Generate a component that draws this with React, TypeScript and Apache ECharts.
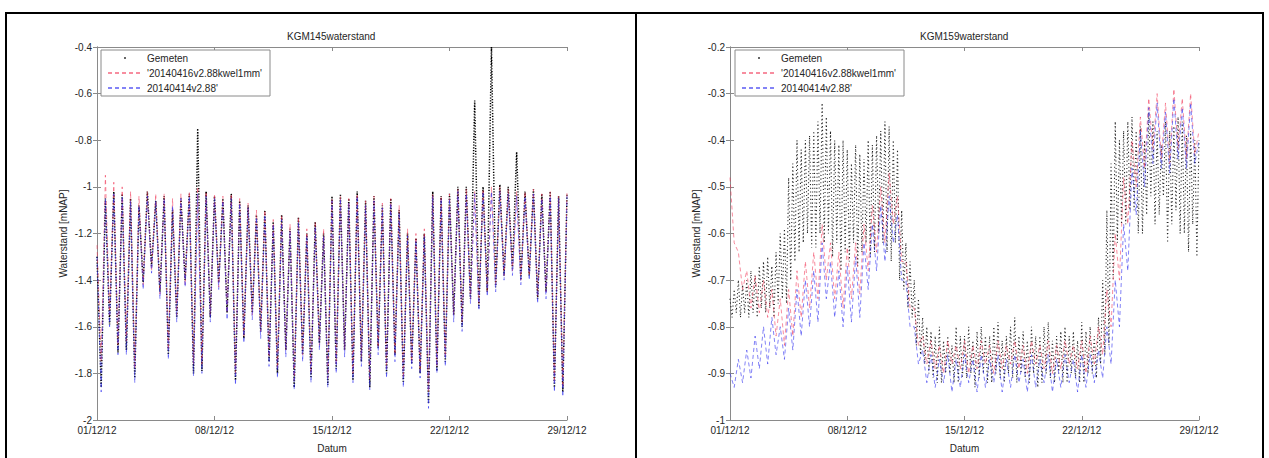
import React, { useEffect, useRef } from "react";
import * as echarts from "echarts";

// ---- Tick labels / names ----
const tickDays = [0, 7, 14, 21, 28];
const dateLabels = ["01/12/12", "08/12/12", "15/12/12", "22/12/12", "29/12/12"];
const titles = ["KGM145waterstand", "KGM159waterstand"];
const seriesNames = ["Gemeten", "'20140416v2.88kwel1mm'", "20140414v2.88'"];
const xName = "Datum";
const yName = "Waterstand [mNAP]";

// model + KGM145 samples every 6 hours (0.25 day), 01/12/12 00:00 .. 29/12/12 00:00
const SAMPLE_STEP_DAYS = 0.25;
// KGM159 measurements every 3 hours (0.125 day)
const KGM159_MEAS_STEP_DAYS = 0.125;

// ---- KGM145 (left) ----
const kgm145Gemeten = [
  -1.30, -1.86, -1.05, -1.59, -1.02, -1.71, -1.03, -1.70, -1.05, -1.82,
  -1.08, -1.41, -1.02, -1.34, -1.06, -1.45, -1.04, -1.72, -1.10, -1.56,
  -1.05, -1.40, -1.03, -1.80, -0.75, -1.79, -1.02, -1.56, -1.04, -1.41,
  -1.05, -1.54, -1.03, -1.83, -1.06, -1.65, -1.08, -1.54, -1.12, -1.62,
  -1.10, -1.75, -1.15, -1.80, -1.12, -1.70, -1.18, -1.86, -1.13, -1.72,
  -1.20, -1.82, -1.15, -1.67, -1.20, -1.85, -1.04, -1.78, -1.03, -1.70,
  -1.05, -1.83, -1.02, -1.75, -1.06, -1.86, -1.04, -1.69, -1.08, -1.80,
  -1.05, -1.72, -1.10, -1.84, -1.20, -1.76, -1.22, -1.80, -1.20, -1.93,
  -1.02, -1.79, -1.04, -1.75, -1.03, -1.55, -1.00, -1.60, -1.00, -1.48,
  -0.63, -1.52, -1.00, -1.45, -0.40, -1.43, -0.99, -1.38, -1.00, -1.35,
  -0.85, -1.40, -1.02, -1.38, -1.01, -1.48, -1.03, -1.45, -1.02, -1.86,
  -1.04, -1.88, -1.03,
];
const kgm145Kwel = [
  -1.25, -1.75, -0.95, -1.55, -0.98, -1.68, -1.00, -1.66, -1.02, -1.78,
  -1.04, -1.42, -1.02, -1.36, -1.03, -1.46, -1.03, -1.70, -1.05, -1.55,
  -1.03, -1.42, -1.02, -1.76, -1.00, -1.76, -1.02, -1.55, -1.03, -1.43,
  -1.04, -1.54, -1.03, -1.80, -1.05, -1.64, -1.07, -1.55, -1.10, -1.62,
  -1.10, -1.73, -1.14, -1.78, -1.12, -1.70, -1.16, -1.83, -1.13, -1.72,
  -1.18, -1.80, -1.15, -1.68, -1.18, -1.82, -1.05, -1.76, -1.04, -1.70,
  -1.05, -1.80, -1.03, -1.74, -1.06, -1.83, -1.04, -1.69, -1.07, -1.78,
  -1.05, -1.72, -1.08, -1.82, -1.18, -1.75, -1.20, -1.79, -1.18, -1.88,
  -1.03, -1.77, -1.04, -1.73, -1.03, -1.55, -1.01, -1.58, -1.01, -1.48,
  -1.02, -1.50, -1.01, -1.45, -1.00, -1.42, -1.00, -1.38, -1.01, -1.36,
  -1.02, -1.40, -1.02, -1.38, -1.01, -1.47, -1.03, -1.45, -1.02, -1.84,
  -1.04, -1.86, -1.02,
];
const kgm145Base = [
  -1.30, -1.88, -1.05, -1.60, -1.03, -1.72, -1.04, -1.72, -1.06, -1.84,
  -1.08, -1.44, -1.04, -1.37, -1.06, -1.48, -1.05, -1.74, -1.08, -1.58,
  -1.05, -1.43, -1.04, -1.81, -1.03, -1.80, -1.04, -1.58, -1.05, -1.44,
  -1.06, -1.57, -1.05, -1.85, -1.07, -1.67, -1.09, -1.57, -1.13, -1.65,
  -1.12, -1.77, -1.16, -1.82, -1.14, -1.73, -1.19, -1.87, -1.15, -1.75,
  -1.21, -1.84, -1.17, -1.70, -1.21, -1.86, -1.06, -1.80, -1.05, -1.73,
  -1.07, -1.84, -1.04, -1.77, -1.08, -1.87, -1.06, -1.72, -1.09, -1.82,
  -1.07, -1.75, -1.11, -1.86, -1.21, -1.78, -1.23, -1.82, -1.21, -1.95,
  -1.04, -1.80, -1.05, -1.77, -1.05, -1.58, -1.02, -1.62, -1.03, -1.50,
  -1.03, -1.53, -1.02, -1.47, -1.02, -1.45, -1.02, -1.40, -1.03, -1.38,
  -1.04, -1.42, -1.04, -1.40, -1.03, -1.50, -1.05, -1.48, -1.04, -1.88,
  -1.05, -1.90, -1.04,
];

// ---- KGM159 (right) ----
const kgm159Gemeten = [
  -0.74, -0.78, -0.72, -0.77, -0.70, -0.78, -0.71, -0.77,
  -0.70, -0.78, -0.68, -0.77, -0.69, -0.78, -0.67, -0.76,
  -0.66, -0.77, -0.65, -0.76, -0.67, -0.78, -0.64, -0.75,
  -0.60, -0.74, -0.59, -0.75, -0.48, -0.70, -0.45, -0.66,
  -0.40, -0.64, -0.42, -0.62, -0.40, -0.60, -0.39, -0.63,
  -0.38, -0.63, -0.36, -0.60, -0.32, -0.62, -0.35, -0.60,
  -0.38, -0.65, -0.40, -0.62, -0.41, -0.68, -0.40, -0.64,
  -0.42, -0.66, -0.45, -0.62, -0.41, -0.67, -0.43, -0.64,
  -0.44, -0.62, -0.40, -0.65, -0.41, -0.64, -0.39, -0.60,
  -0.38, -0.62, -0.36, -0.64, -0.37, -0.66, -0.40, -0.62,
  -0.42, -0.70, -0.55, -0.72, -0.62, -0.76, -0.66, -0.78,
  -0.70, -0.84, -0.74, -0.86, -0.78, -0.88, -0.80, -0.90,
  -0.81, -0.91, -0.82, -0.92, -0.80, -0.92, -0.83, -0.90,
  -0.82, -0.90, -0.84, -0.92, -0.80, -0.92, -0.82, -0.91,
  -0.82, -0.91, -0.80, -0.90, -0.83, -0.93, -0.81, -0.91,
  -0.80, -0.90, -0.82, -0.92, -0.82, -0.92, -0.80, -0.90,
  -0.79, -0.91, -0.83, -0.92, -0.82, -0.90, -0.80, -0.91,
  -0.78, -0.92, -0.82, -0.90, -0.81, -0.91, -0.83, -0.92,
  -0.80, -0.90, -0.82, -0.93, -0.82, -0.92, -0.80, -0.90,
  -0.79, -0.91, -0.83, -0.92, -0.82, -0.90, -0.81, -0.92,
  -0.80, -0.92, -0.82, -0.90, -0.81, -0.91, -0.83, -0.92,
  -0.79, -0.92, -0.81, -0.90, -0.80, -0.90, -0.82, -0.91,
  -0.78, -0.88, -0.70, -0.86, -0.55, -0.84, -0.45, -0.70,
  -0.36, -0.62, -0.40, -0.58, -0.38, -0.58, -0.36, -0.55,
  -0.35, -0.55, -0.38, -0.60, -0.37, -0.60, -0.40, -0.56,
  -0.34, -0.52, -0.36, -0.58, -0.38, -0.56, -0.41, -0.52,
  -0.36, -0.62, -0.38, -0.58, -0.37, -0.55, -0.35, -0.60,
  -0.36, -0.60, -0.39, -0.64, -0.38, -0.58, -0.40, -0.65,
  -0.40,
];
const kgm159Kwel = [
  -0.48, -0.62, -0.64, -0.72, -0.68, -0.76, -0.69, -0.77, -0.70, -0.78,
  -0.72, -0.82, -0.74, -0.84, -0.72, -0.82, -0.68, -0.78, -0.66, -0.76,
  -0.64, -0.74, -0.58, -0.70, -0.62, -0.74, -0.64, -0.76, -0.63, -0.74,
  -0.62, -0.73, -0.58, -0.68, -0.54, -0.64, -0.50, -0.62, -0.47, -0.58,
  -0.52, -0.66, -0.66, -0.76, -0.76, -0.84, -0.82, -0.88, -0.83, -0.89,
  -0.84, -0.90, -0.83, -0.88, -0.84, -0.89, -0.83, -0.90, -0.84, -0.89,
  -0.83, -0.88, -0.84, -0.90, -0.83, -0.89, -0.84, -0.88, -0.83, -0.89,
  -0.84, -0.90, -0.83, -0.88, -0.84, -0.89, -0.83, -0.90, -0.84, -0.89,
  -0.83, -0.88, -0.84, -0.89, -0.83, -0.90, -0.82, -0.88, -0.80, -0.86,
  -0.72, -0.80, -0.60, -0.70, -0.48, -0.58, -0.40, -0.50, -0.35, -0.46,
  -0.31, -0.42, -0.30, -0.44, -0.32, -0.45, -0.29, -0.42, -0.31, -0.44,
  -0.30, -0.43, -0.38,
];
const kgm159Base = [
  -0.90, -0.93, -0.87, -0.92, -0.85, -0.91, -0.82, -0.89, -0.80, -0.88,
  -0.78, -0.86, -0.80, -0.87, -0.76, -0.85, -0.72, -0.82, -0.70, -0.80,
  -0.68, -0.79, -0.62, -0.74, -0.66, -0.78, -0.68, -0.80, -0.67, -0.79,
  -0.65, -0.78, -0.62, -0.72, -0.58, -0.68, -0.54, -0.66, -0.52, -0.62,
  -0.56, -0.70, -0.70, -0.80, -0.80, -0.88, -0.85, -0.92, -0.86, -0.93,
  -0.87, -0.92, -0.86, -0.94, -0.87, -0.93, -0.86, -0.92, -0.87, -0.94,
  -0.86, -0.93, -0.87, -0.92, -0.86, -0.94, -0.87, -0.93, -0.86, -0.92,
  -0.87, -0.94, -0.86, -0.93, -0.87, -0.92, -0.86, -0.94, -0.87, -0.93,
  -0.86, -0.92, -0.87, -0.94, -0.86, -0.93, -0.86, -0.92, -0.85, -0.91,
  -0.80, -0.88, -0.70, -0.80, -0.58, -0.68, -0.46, -0.56, -0.38, -0.50,
  -0.33, -0.45, -0.32, -0.46, -0.34, -0.47, -0.31, -0.44, -0.33, -0.46,
  -0.32, -0.45, -0.40,
];

const yRanges = [
  { min: -2, max: -0.4, interval: 0.2 },
  { min: -1, max: -0.2, interval: 0.1 },
];

const FONT = "'Liberation Sans', Arial, sans-serif";
const TEXT = "#262626";
const AXIS = "#8a8a8a";
const DOT_ICON = "path://M0,0M34,0M34,10M0,10M16.2,4.2L17.8,4.2L17.8,5.8L16.2,5.8Z";

const toPairs = (vals: number[], step: number) => vals.map((v, i) => [i * step, v]);

export default function App() {
  const ref = useRef<HTMLDivElement>(null);
  useEffect(() => {
    if (!ref.current) return;
    const chart = echarts.init(ref.current, undefined, { renderer: "svg" });
    const grids = [
      { left: 97, top: 47, width: 470, height: 380 },
      { left: 730, top: 47, width: 469, height: 380 },
    ];
    const axisLine = { show: true, lineStyle: { color: AXIS, width: 1 } };
    const tick = { show: true, inside: true, length: 4, lineStyle: { color: AXIS } };
    const xAxes: any[] = [];
    const yAxes: any[] = [];
    grids.forEach((_, g) => {
      xAxes.push({
        gridIndex: g, type: "value", position: "bottom", min: 0, max: 28, interval: 7,
        axisLine, axisTick: tick, splitLine: { show: false },
        axisLabel: {
          color: TEXT, fontSize: 10, fontFamily: FONT, margin: 5,
          formatter: (v: number) => { const i = tickDays.indexOf(v); return i >= 0 ? dateLabels[i] : ""; },
        },
        name: xName, nameLocation: "middle", nameGap: 23,
        nameTextStyle: { color: TEXT, fontSize: 10, fontFamily: FONT },
      });
      xAxes.push({
        gridIndex: g, type: "value", position: "top", min: 0, max: 28, interval: 7,
        axisLine, axisTick: tick, splitLine: { show: false }, axisLabel: { show: false },
      });
      const r = yRanges[g];
      yAxes.push({
        gridIndex: g, type: "value", position: "left", min: r.min, max: r.max, interval: r.interval,
        axisLine, axisTick: tick, splitLine: { show: false },
        axisLabel: { color: TEXT, fontSize: 10, fontFamily: FONT, margin: 5 },
        name: yName, nameLocation: "middle", nameGap: 29,
        nameTextStyle: { color: TEXT, fontSize: 10, fontFamily: FONT },
      });
      yAxes.push({
        gridIndex: g, type: "value", position: "right", min: r.min, max: r.max, interval: r.interval,
        axisLine, axisTick: tick, splitLine: { show: false }, axisLabel: { show: false },
      });
    });

    const dataSets = [
      [
        { vals: kgm145Gemeten, step: SAMPLE_STEP_DAYS },
        { vals: kgm145Kwel, step: SAMPLE_STEP_DAYS },
        { vals: kgm145Base, step: SAMPLE_STEP_DAYS },
      ],
      [
        { vals: kgm159Gemeten, step: KGM159_MEAS_STEP_DAYS },
        { vals: kgm159Kwel, step: SAMPLE_STEP_DAYS },
        { vals: kgm159Base, step: SAMPLE_STEP_DAYS },
      ],
    ];
    const styles = [
      { color: "#000000", width: 1.5, type: [1.2, 1.6], opacity: 1 },
      { color: "#f03050", width: 1, type: [4, 3], opacity: 0.55 },
      { color: "#3030f0", width: 1, type: [4, 3], opacity: 0.6 },
    ];
    const series: any[] = [];
    dataSets.forEach((sets, g) => {
      sets.forEach((set, s) => {
        const lightDots = g === 1 && s === 0;
        series.push({
          type: "line", name: seriesNames[s], xAxisIndex: g * 2, yAxisIndex: g * 2,
          data: toPairs(set.vals, set.step),
          symbol: "none", showSymbol: false, silent: true,
          lineStyle: lightDots
            ? { ...styles[s], width: 1.1, type: [1.1, 2.6], opacity: 0.85 }
            : { ...styles[s] },
          itemStyle: { color: styles[s].color },
          z: 2 + s,
        });
      });
    });

    const legendFor = (left: number) => ({
      left, top: 50, orient: "vertical", itemGap: 5, itemWidth: 34, itemHeight: 10,
      padding: [3, 8, 3, 6], borderColor: AXIS, borderWidth: 1, backgroundColor: "#fff",
      textStyle: { color: TEXT, fontSize: 10, fontFamily: FONT },
      itemStyle: { opacity: 0 },
      selectedMode: false,
      data: [
        { name: seriesNames[0], icon: DOT_ICON, itemStyle: { opacity: 1, color: "#000" } },
        seriesNames[1], seriesNames[2],
      ],
    });

    chart.setOption({
      animation: false,
      backgroundColor: "#fff",
      title: [
        { text: titles[0], left: 287, top: 31, textStyle: { color: TEXT, fontSize: 10, fontWeight: "normal", fontFamily: FONT }, padding: 0 },
        { text: titles[1], left: 920, top: 31, textStyle: { color: TEXT, fontSize: 10, fontWeight: "normal", fontFamily: FONT }, padding: 0 },
      ],
      legend: [legendFor(101), legendFor(735)],
      grid: grids,
      xAxis: xAxes,
      yAxis: yAxes,
      series,
      graphic: [
        { type: "rect", shape: { x: 5, y: 12, width: 1259, height: 2 }, style: { fill: "#000" }, silent: true },
        { type: "rect", shape: { x: 5, y: 12, width: 2, height: 446 }, style: { fill: "#000" }, silent: true },
        { type: "rect", shape: { x: 635, y: 12, width: 2, height: 446 }, style: { fill: "#000" }, silent: true },
        { type: "rect", shape: { x: 1262, y: 12, width: 2, height: 446 }, style: { fill: "#000" }, silent: true },
      ],
    });
    return () => chart.dispose();
  }, []);
  return (
    <div
      ref={ref}
      style={{ position: "absolute", left: 0, top: 0, width: 1269, height: 458, background: "#fff" }}
    />
  );
}
